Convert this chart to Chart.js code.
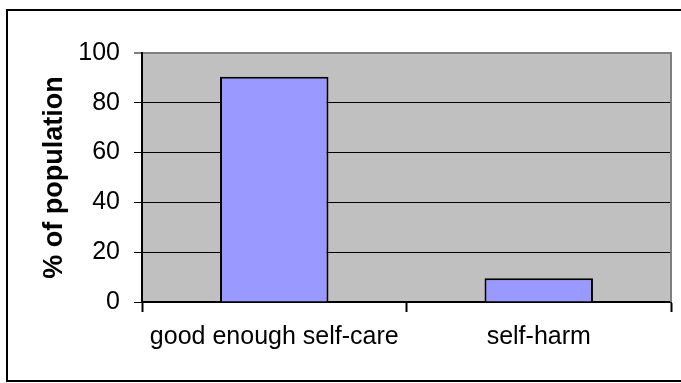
<!DOCTYPE html>
<html lang="en">
<head>
    <meta charset="UTF-8">
    <title>% of population</title>
    <script src="https://cdn.jsdelivr.net/npm/chart.js@4.4.0/dist/chart.umd.min.js"></script>
    <style>
        html, body { margin: 0; padding: 0; background: #fff; overflow: hidden; }
        #frame {
            position: absolute; left: 6px; top: 9px;
            width: 676px; height: 369px;
            border: 2px solid #000;
        }
        canvas { display: block; }
    </style>
</head>
<body>
    <div id="frame"><canvas id="chart" width="672" height="369"></canvas></div>

    <script>
        const categories = ['good enough self-care', 'self-harm'];
        const percentages = [90.5, 9.5];
        const yTicks = [0, 20, 40, 60, 80, 100];
        const yTitle = '% of population';

        const FONT = '"Liberation Sans", Arial, sans-serif';

        // gray plot area plus its right border, like the old Excel look
        const plotBackground = {
            id: 'plotBackground',
            beforeDraw(chart) {
                const { ctx, chartArea: a } = chart;
                ctx.save();
                ctx.fillStyle = '#C0C0C0';
                ctx.fillRect(a.left, a.top, a.right - a.left, a.bottom - a.top);
                ctx.restore();
            },
            afterDraw(chart) {
                const { ctx, chartArea: a } = chart;
                ctx.save();
                ctx.strokeStyle = '#808080';
                ctx.lineWidth = 2;
                ctx.beginPath();
                ctx.moveTo(Math.round(a.right), a.top - 1);
                ctx.lineTo(Math.round(a.right), a.bottom);
                ctx.stroke();
                ctx.restore();
            }
        };

        new Chart(document.getElementById('chart'), {
            type: 'bar',
            data: {
                labels: categories,
                datasets: [{
                    data: percentages,
                    backgroundColor: '#9999FF',
                    borderColor: '#000',
                    borderWidth: 2,
                    barPercentage: 0.41,
                    categoryPercentage: 1
                }]
            },
            options: {
                responsive: false,
                animation: false,
                layout: { padding: { top: 42, right: 9, left: 0, bottom: 0 } },
                plugins: {
                    legend: { display: false },
                    tooltip: { enabled: false }
                },
                scales: {
                    x: {
                        offset: true,
                        afterFit: s => { s.height = 78; },
                        grid: {
                            offset: true,
                            drawOnChartArea: false,
                            drawTicks: true,
                            tickLength: 10,
                            tickWidth: 2,
                            tickColor: '#000'
                        },
                        border: { color: '#000', width: 2 },
                        ticks: {
                            color: '#000',
                            padding: 10,
                            maxRotation: 0,
                            font: { family: FONT, size: 25 }
                        }
                    },
                    y: {
                        min: yTicks[0],
                        max: yTicks[yTicks.length - 1],
                        afterFit: s => { s.width = 134; },
                        afterBuildTicks: s => { s.ticks = yTicks.map(v => ({ value: v })); },
                        grid: {
                            color: c => (c.tick && c.tick.value === 100) ? '#808080' : '#000',
                            lineWidth: c => (c.tick && c.tick.value === 100) ? 2 : 1,
                            tickLength: 8,
                            tickWidth: 1,
                            tickColor: '#000'
                        },
                        border: { color: '#000', width: 2 },
                        ticks: {
                            color: '#000',
                            padding: 14,
                            font: { family: FONT, size: 25 }
                        },
                        title: {
                            display: true,
                            text: yTitle,
                            color: '#000',
                            padding: { top: 30, bottom: 0 },
                            font: { family: FONT, size: 27, weight: 'bold' }
                        }
                    }
                }
            },
            plugins: [plotBackground]
        });
    </script>
</body>
</html>
